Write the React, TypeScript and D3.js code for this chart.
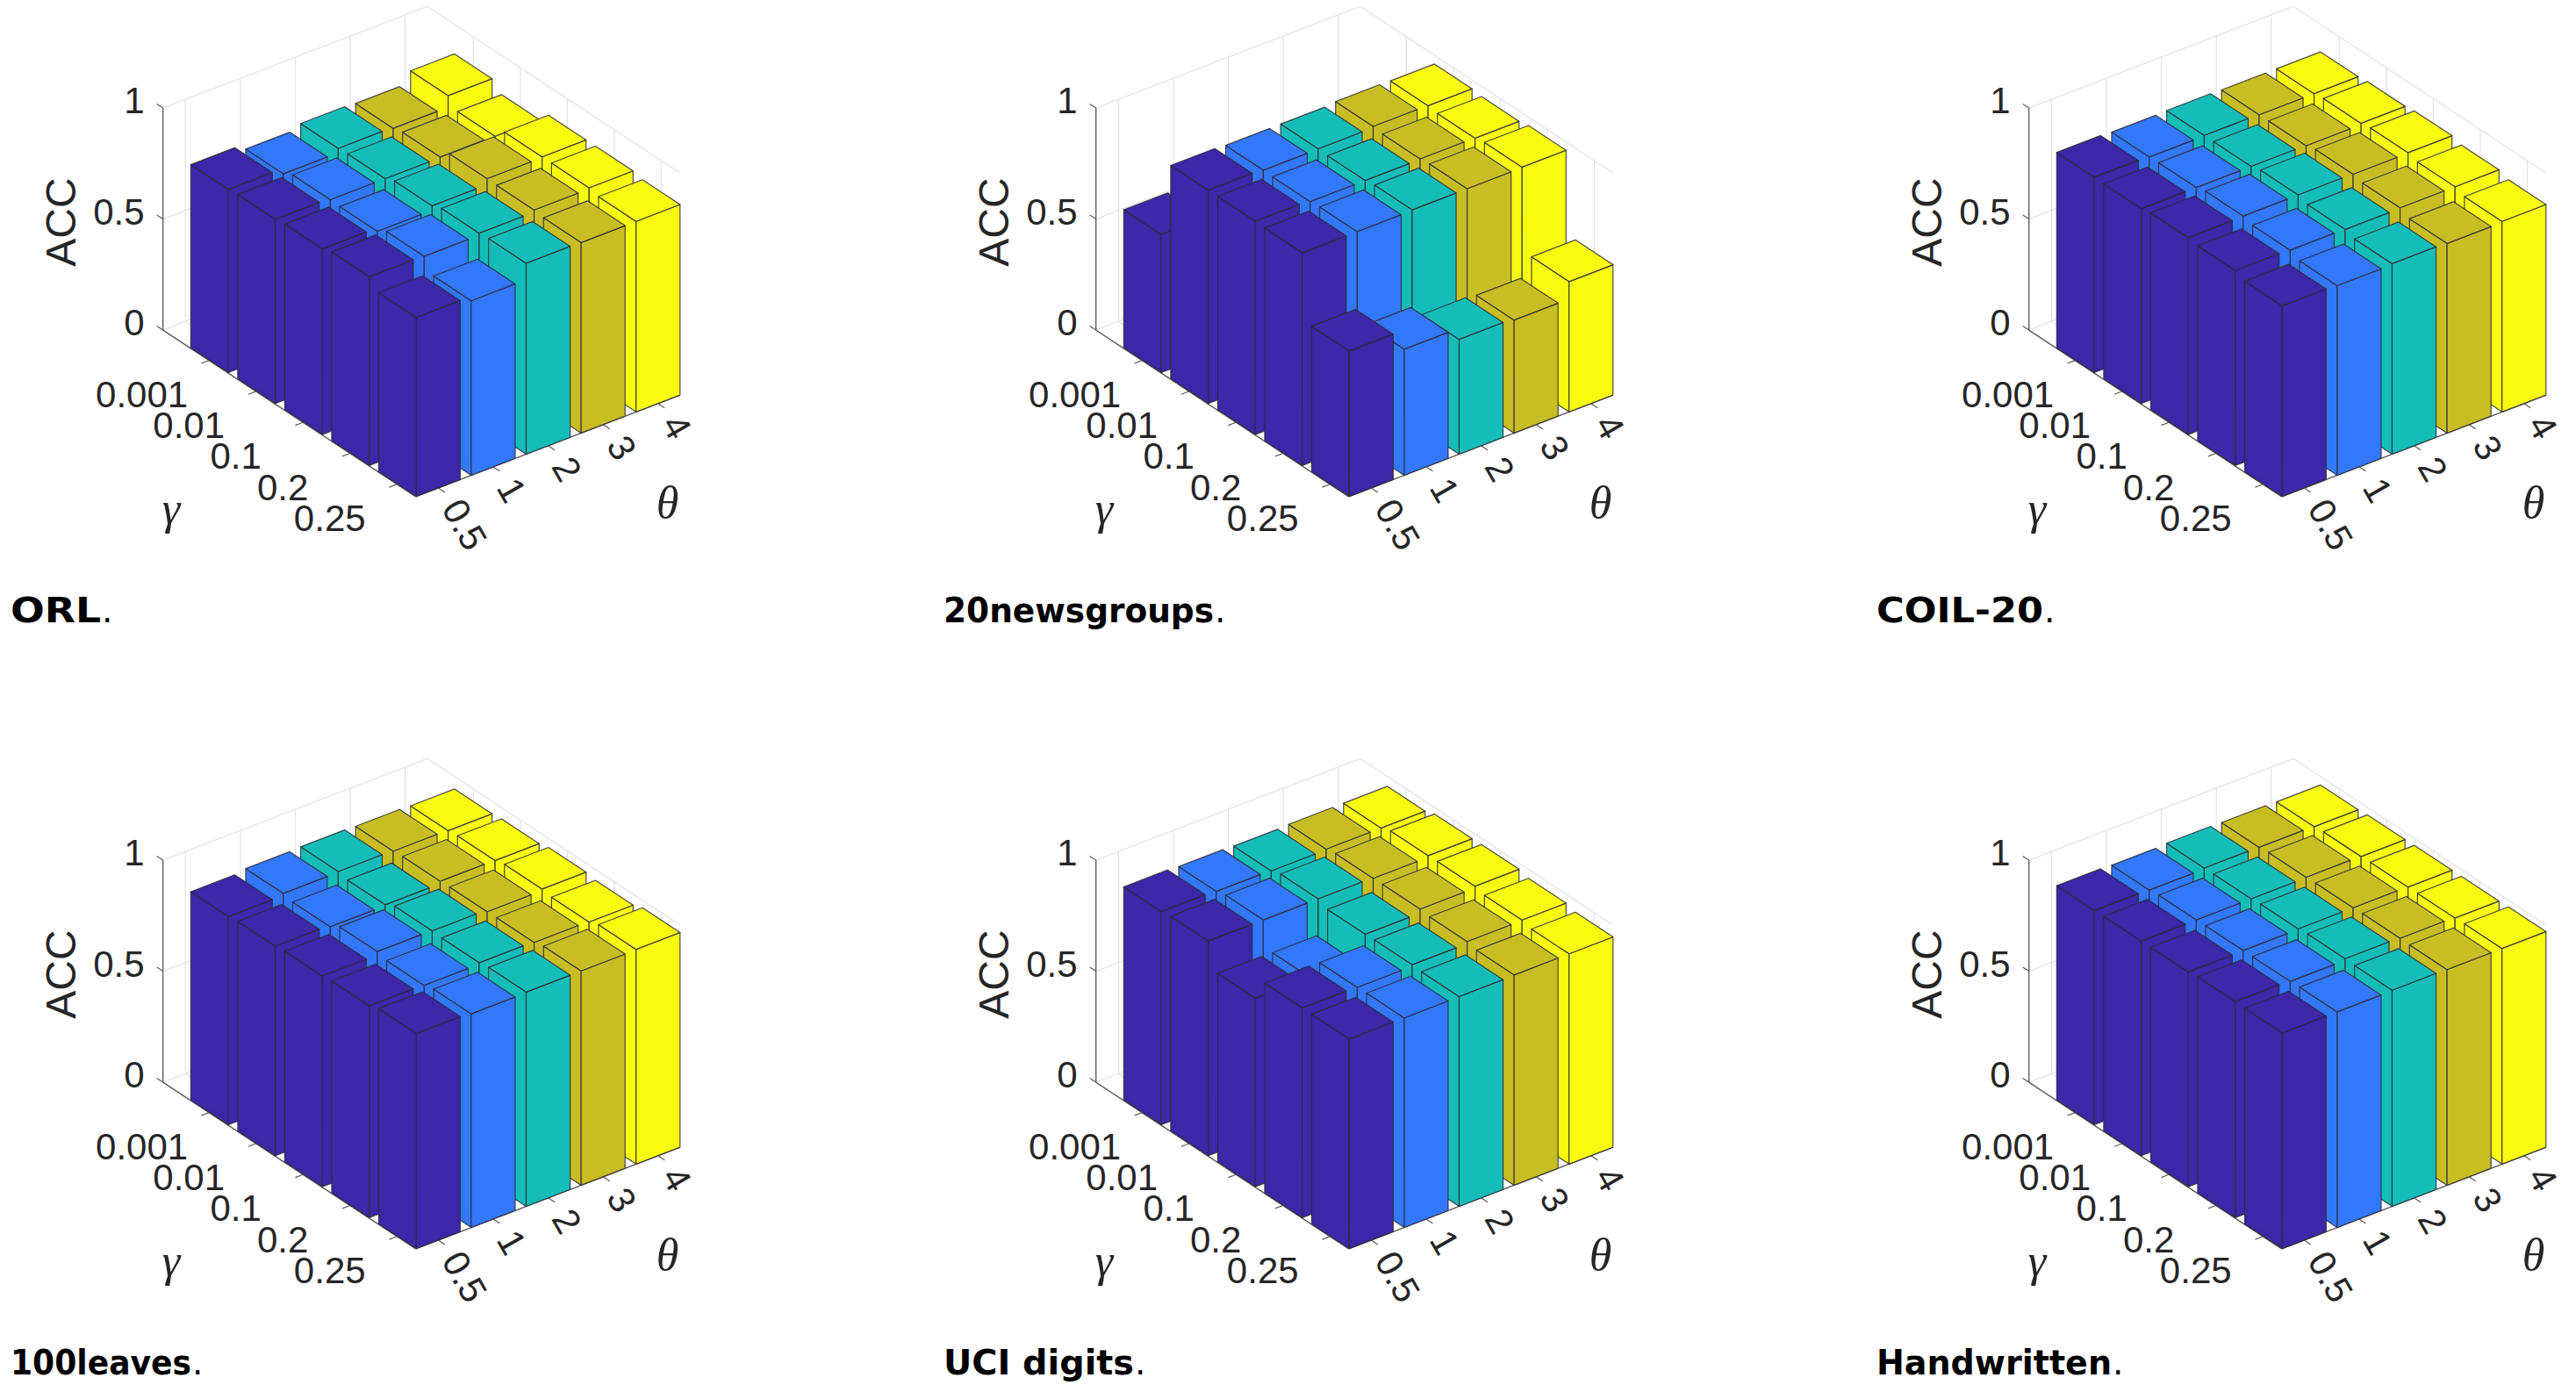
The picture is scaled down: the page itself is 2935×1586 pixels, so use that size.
import React, { useEffect, useRef } from "react";
import * as d3 from "d3";

// accuracy per dataset: one row per theta value, one column per gamma value
const orlAcc = [
  [0.825, 0.83, 0.836, 0.85, 0.806],
  [0.8, 0.823, 0.82, 0.847, 0.786],
  [0.82, 0.823, 0.84, 0.856, 0.86],
  [0.815, 0.825, 0.867, 0.865, 0.858],
  [0.867, 0.823, 0.87, 0.87, 0.858],
];
const newsAcc = [
  [0.622, 0.961, 0.961, 0.958, 0.655],
  [0.62, 0.956, 0.954, 0.958, 0.568],
  [0.62, 0.957, 0.954, 0.961, 0.517],
  [0.62, 0.963, 0.956, 0.961, 0.509],
  [0.62, 0.961, 0.954, 0.963, 0.587],
];
const coilAcc = [
  [0.88, 0.878, 0.887, 0.878, 0.858],
  [0.876, 0.878, 0.889, 0.875, 0.854],
  [0.878, 0.878, 0.889, 0.873, 0.858],
  [0.876, 0.876, 0.887, 0.875, 0.854],
  [0.876, 0.882, 0.889, 0.875, 0.858],
];
const leavesAcc = [
  [0.938, 0.944, 0.949, 0.954, 0.969],
  [0.947, 0.936, 0.964, 0.951, 0.962],
  [0.95, 0.94, 0.962, 0.958, 0.965],
  [0.947, 0.951, 0.953, 0.954, 0.965],
  [0.944, 0.949, 0.96, 0.951, 0.967],
];
const uciAcc = [
  [0.96, 0.967, 0.849, 0.945, 0.944],
  [0.956, 0.967, 0.847, 0.942, 0.944],
  [0.953, 0.967, 0.947, 0.949, 0.945],
  [0.956, 0.964, 0.965, 0.958, 0.947],
  [0.956, 0.971, 0.973, 0.96, 0.947],
];
const handAcc = [
  [0.965, 0.967, 0.967, 0.973, 0.971],
  [0.962, 0.967, 0.969, 0.969, 0.971],
  [0.966, 0.967, 0.971, 0.976, 0.973],
  [0.964, 0.969, 0.971, 0.973, 0.971],
  [0.962, 0.967, 0.969, 0.969, 0.971],
];

const panelData = [orlAcc, newsAcc, coilAcc, leavesAcc, uciAcc, handAcc];
const panelTitles = ["ORL", "20newsgroups", "COIL-20", "100leaves", "UCI digits", "Handwritten"];
const titleWidths = [103, 308, 190, 206, 217, 268];

const gammaLabels = ["0.001", "0.01", "0.1", "0.2", "0.25"];
const thetaLabels = ["0.5", "1", "2", "3", "4"];
const zTicks = [0, 0.5, 1];
const barColors = ["#3b27a7", "#3377fb", "#14bdb8", "#c9bd24", "#f9fb0f"];

const WIDTH = 2935;
const HEIGHT = 1586;
const COL_STEP = 1063;
const ROW_STEP = 857;

// oblique projection of the MATLAB bar3 view
const gammaX = d3.scaleLinear().domain([0, 4]).range([263.8, 263.8 + 4 * 53.53]);
const gammaY = d3.scaleLinear().domain([0, 4]).range([400.8, 400.8 + 4 * 35.27]);
const thetaX = d3.scaleLinear().domain([0, 4]).range([0, 4 * 62.61]);
const thetaY = d3.scaleLinear().domain([0, 4]).range([0, -4 * 24.07]);
const zY = d3.scaleLinear().domain([0, 1]).range([0, -253]);

const project = (g: number, t: number, z: number): [number, number] => [
  gammaX(g) + thetaX(t),
  gammaY(g) + thetaY(t) + zY(z),
];

const G_MIN = -0.98;
const G_MAX = 4.4;
const T_MIN = -0.41;
const T_MAX = 4.4;
const BAR_HALF = 0.4;

const TEXT_COLOR = "#262626";
const GRID_COLOR = "#e4e4e4";
const AXIS_COLOR = "#5a5a5a";

const line = d3.line();

function drawPanel(root: any, acc: number[][], title: string, titleWidth: number) {
  const seg = (a: [number, number], b: [number, number], color: string, w: number) =>
    root.append("path").attr("d", line([a, b])).attr("stroke", color).attr("stroke-width", w).attr("fill", "none");

  // back walls and floor grid
  d3.range(5).forEach((t) => {
    seg(project(G_MIN, t, 0), project(G_MIN, t, 1), GRID_COLOR, 1.3);
    seg(project(G_MIN, t, 0), project(G_MAX, t, 0), GRID_COLOR, 1.3);
  });
  d3.range(5).forEach((g) => {
    seg(project(g, T_MAX, 0), project(g, T_MAX, 1), GRID_COLOR, 1.3);
    seg(project(g, T_MIN, 0), project(g, T_MAX, 0), GRID_COLOR, 1.3);
  });
  zTicks.forEach((z) => {
    seg(project(G_MIN, T_MIN, z), project(G_MIN, T_MAX, z), GRID_COLOR, 1.3);
    seg(project(G_MIN, T_MAX, z), project(G_MAX, T_MAX, z), GRID_COLOR, 1.3);
  });

  // axis lines and ticks
  seg(project(G_MIN, T_MIN, 0), project(G_MIN, T_MIN, 1), AXIS_COLOR, 1.4);
  seg(project(G_MIN, T_MIN, 0), project(G_MAX, T_MIN, 0), AXIS_COLOR, 1.4);
  seg(project(G_MAX, T_MIN, 0), project(G_MAX, T_MAX, 0), AXIS_COLOR, 1.4);
  zTicks.forEach((z) => seg(project(G_MIN, T_MIN, z), project(G_MIN - 0.13, T_MIN, z), AXIS_COLOR, 1.2));
  d3.range(5).forEach((g) => seg(project(g, T_MIN, 0), project(g, T_MIN - 0.14, 0), AXIS_COLOR, 1.2));
  d3.range(5).forEach((t) => seg(project(G_MAX, t, 0), project(G_MAX + 0.14, t, 0), AXIS_COLOR, 1.2));

  // bars, back to front
  d3.range(5).forEach((g) => {
    d3.range(4, -1, -1).forEach((t) => {
      const v = acc[t][g];
      const c = (dg: number, dt: number, z: number) => project(g + dg * BAR_HALF, t + dt * BAR_HALF, z);
      const faces = [
        [c(-1, -1, 0), c(1, -1, 0), c(1, -1, v), c(-1, -1, v)],
        [c(1, -1, 0), c(1, 1, 0), c(1, 1, v), c(1, -1, v)],
        [c(-1, -1, v), c(1, -1, v), c(1, 1, v), c(-1, 1, v)],
      ];
      faces.forEach((f) => {
        root
          .append("path")
          .attr("d", line(f as [number, number][]) + "Z")
          .attr("fill", barColors[t])
          .attr("stroke", "#2b2b35")
          .attr("stroke-opacity", 0.85)
          .attr("stroke-width", 1.2)
          .attr("stroke-linejoin", "round");
      });
    });
  });

  const label = (txt: string, x: number, y: number, size: number) =>
    root
      .append("text")
      .attr("x", x)
      .attr("y", y)
      .attr("font-family", "'Liberation Sans', Arial, sans-serif")
      .attr("font-size", size)
      .attr("fill", TEXT_COLOR)
      .attr("dy", "0.36em")
      .text(txt);

  // z tick labels
  zTicks.forEach((z) => {
    const [x, y] = project(G_MIN, T_MIN, z);
    label(String(z), x - 21, y - 9, 42).attr("text-anchor", "end");
  });

  // gamma tick labels
  gammaLabels.forEach((txt, g) => {
    const [x, y] = project(g, T_MIN, 0);
    label(txt, x - 76.5, y + 38, 42).attr("text-anchor", "middle");
  });

  // theta tick labels, rotated
  thetaLabels.forEach((txt, t) => {
    const [x, y] = project(G_MAX, t, 0);
    label(txt, 0, 0, 42).attr("transform", `translate(${x + 16},${y + 16}) rotate(60)`);
  });

  label("ACC", 0, 0, 48)
    .attr("text-anchor", "middle")
    .attr("transform", "translate(69,253) rotate(-90)");

  const greek = (txt: string, x: number, y: number) =>
    root
      .append("text")
      .attr("x", x)
      .attr("y", y)
      .attr("text-anchor", "middle")
      .attr("font-family", "'Liberation Serif', 'DejaVu Serif', serif")
      .attr("font-style", "italic")
      .attr("font-size", 52)
      .attr("fill", TEXT_COLOR)
      .text(txt);
  greek("γ", 195, 597);
  greek("θ", 760.5, 590);

  // title, with a lighter full stop as its own text so nothing overlaps
  const titleFont = (sel: any) =>
    sel.attr("y", 708.6).attr("font-family", "'DejaVu Sans', sans-serif").attr("font-size", 39).attr("fill", "#000");
  titleFont(root.append("text"))
    .attr("x", 12)
    .attr("font-weight", 700)
    .attr("textLength", titleWidth)
    .attr("lengthAdjust", "spacingAndGlyphs")
    .text(title);
  titleFont(root.append("text"))
    .attr("x", 12 + titleWidth + 1)
    .text(".");
}

const App = () => {
  const svgRef = useRef<SVGSVGElement>(null);

  useEffect(() => {
    const svg = d3.select(svgRef.current);
    svg.selectAll("*").remove();
    svg.append("rect").attr("width", WIDTH).attr("height", HEIGHT).attr("fill", "#fff");

    panelData.forEach((acc, i) => {
      const col = i % 3;
      const row = Math.floor(i / 3);
      const root = svg.append("g").attr("transform", `translate(${col * COL_STEP},${row * ROW_STEP})`);
      drawPanel(root, acc, panelTitles[i], titleWidths[i]);
    });
  }, []);

  return (
    <svg
      ref={svgRef}
      width={WIDTH}
      height={HEIGHT}
      style={{ position: "absolute", left: 0, top: 0, display: "block" }}
    />
  );
};

export default App;
